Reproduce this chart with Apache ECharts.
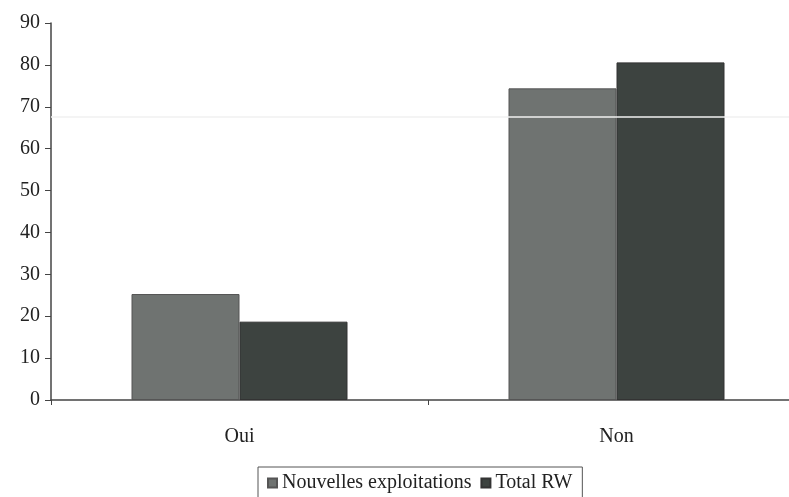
<!DOCTYPE html>
<html>
<head>
<meta charset="utf-8">
<script src="https://cdn.jsdelivr.net/npm/echarts@6/dist/echarts.min.js"></script>
<style>html,body{margin:0;padding:0;background:#fff}#c{width:789px;height:497px}</style>
</head>
<body>
<div id="c"></div>
<script>
const categories = ['Oui', 'Non'];
const seriesNames = ['Nouvelles exploitations', 'Total RW'];
const nouvelles = [25.3, 74.4];
const totalRW = [18.7, 80.6];
const yTicks = [0, 10, 20, 30, 40, 50, 60, 70, 80, 90];

const chart = echarts.init(document.getElementById('c'));
const font = '"Liberation Serif", "DejaVu Serif", serif';
chart.setOption({
  backgroundColor: '#ffffff',
  animation: false,
  textStyle: { fontFamily: font },
  grid: { left: 51, top: 23, width: 754, height: 377, containLabel: false, outerBoundsMode: 'none' },
  legend: {
    data: seriesNames,
    left: 258, top: 467,
    orient: 'horizontal',
    itemWidth: 9, itemHeight: 9, itemGap: 9,
    padding: [6, 10, 12, 9],
    borderColor: '#555', borderWidth: 1,
    textStyle: { fontFamily: font, fontSize: 20, color: '#222' },
    icon: 'rect'
  },
  xAxis: {
    type: 'category',
    data: categories,
    axisLine: { lineStyle: { color: '#444', width: 1.5 } },
    axisTick: { show: true, length: 5, inside: false, lineStyle: { color: '#444' } },
    axisLabel: { fontFamily: font, fontSize: 20, color: '#222', margin: 27 },
    splitLine: { show: false }
  },
  yAxis: {
    type: 'value',
    min: yTicks[0], max: yTicks[yTicks.length - 1], interval: 10,
    axisLine: { show: true, lineStyle: { color: '#444', width: 1.5 } },
    axisTick: { show: true, length: 6, lineStyle: { color: '#444' } },
    axisLabel: { fontFamily: font, fontSize: 20, color: '#222', margin: 11 },
    splitLine: { show: false }
  },
  series: [
    {
      name: seriesNames[0], type: 'bar', data: nouvelles,
      barWidth: 108, barGap: '0%',
      itemStyle: { color: '#6f7371', borderColor: '#555', borderWidth: 1 },
      markLine: {
        silent: true, symbol: 'none', label: { show: false },
        lineStyle: { color: '#f0f0f0', width: 1.5, type: 'solid' },
        data: [{ yAxis: 67.6 }]
      },
      z: 2
    },
    {
      name: seriesNames[1], type: 'bar', data: totalRW,
      barWidth: 108, barGap: '0%',
      itemStyle: { color: '#3d4340', borderColor: '#333', borderWidth: 1 },
      z: 2
    }
  ]
});
</script>
</body>
</html>
